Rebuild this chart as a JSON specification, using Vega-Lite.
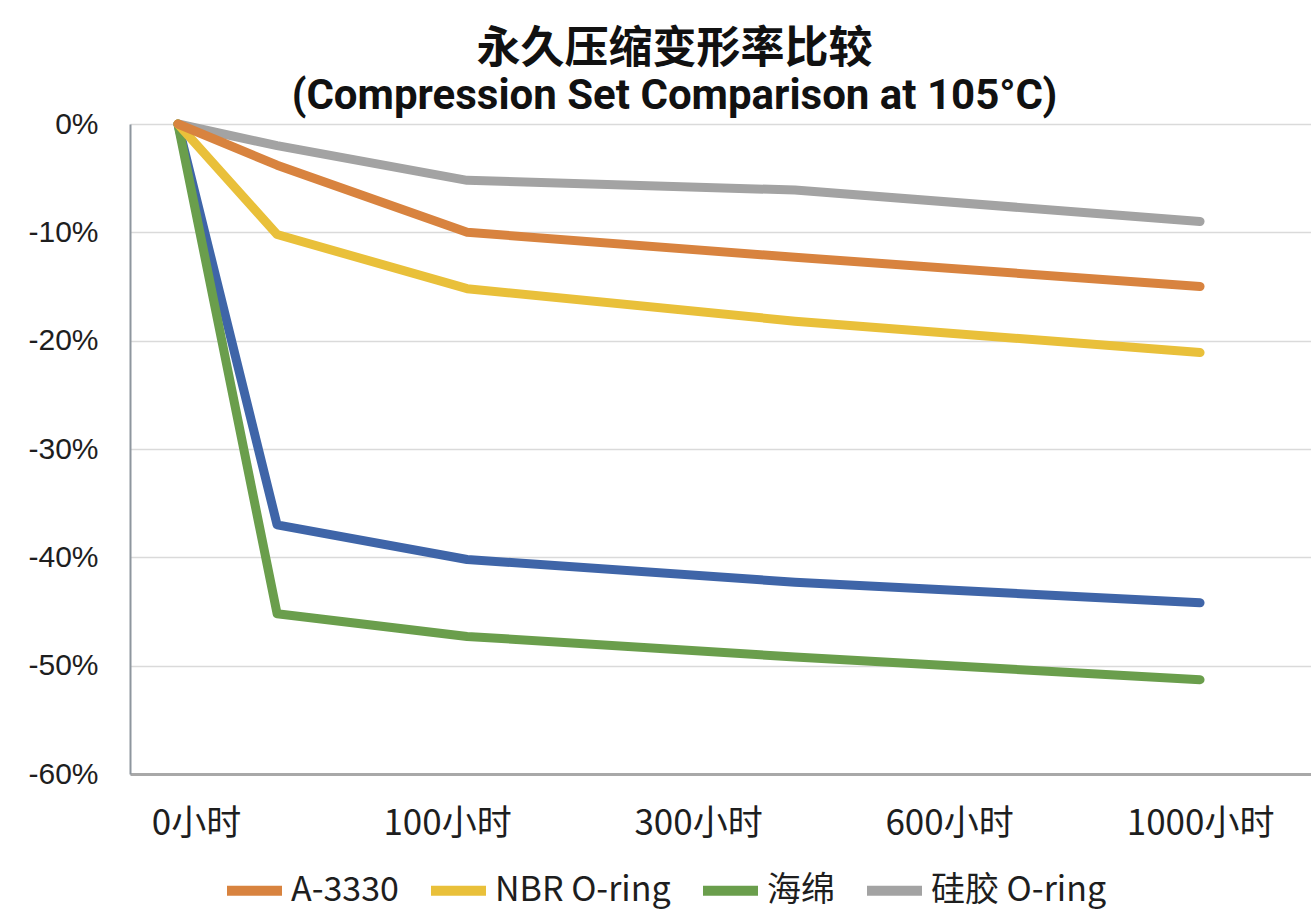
{
  "$schema": "https://vega.github.io/schema/vega-lite/v6.json",
  "autosize": {"type": "none"},
  "width": 1181,
  "height": 650,
  "padding": {"left": 130, "top": 124, "right": 0, "bottom": 141},
  "background": "white",
  "title": {
    "text": "永久压缩变形率比较",
    "subtitle": "(Compression Set Comparison at 105°C)",
    "font": "Noto Sans CJK SC",
    "fontSize": 44,
    "fontWeight": "bold",
    "color": "#111111",
    "subtitleFont": "Roboto",
    "subtitleFontSize": 42,
    "subtitleFontWeight": "bold",
    "subtitleColor": "#111111",
    "subtitlePadding": 4,
    "anchor": "middle",
    "dx": -46,
    "offset": -8
  },
  "data": {
    "values": [
      {"pos": -0.072, "series": "硅胶 O-ring", "value": 0},
      {"pos": 0.323, "series": "硅胶 O-ring", "value": -2.0},
      {"pos": 1.08, "series": "硅胶 O-ring", "value": -5.2},
      {"pos": 2.386, "series": "硅胶 O-ring", "value": -6.1},
      {"pos": 4.0, "series": "硅胶 O-ring", "value": -9.0},
      {"pos": -0.072, "series": "未标注", "value": 0},
      {"pos": 0.323, "series": "未标注", "value": -37.0},
      {"pos": 1.08, "series": "未标注", "value": -40.2},
      {"pos": 2.386, "series": "未标注", "value": -42.3},
      {"pos": 4.0, "series": "未标注", "value": -44.2},
      {"pos": -0.072, "series": "海绵", "value": 0},
      {"pos": 0.323, "series": "海绵", "value": -45.2},
      {"pos": 1.08, "series": "海绵", "value": -47.3},
      {"pos": 2.386, "series": "海绵", "value": -49.2},
      {"pos": 4.0, "series": "海绵", "value": -51.3},
      {"pos": -0.072, "series": "NBR O-ring", "value": 0},
      {"pos": 0.323, "series": "NBR O-ring", "value": -10.2},
      {"pos": 1.08, "series": "NBR O-ring", "value": -15.2},
      {"pos": 2.386, "series": "NBR O-ring", "value": -18.2},
      {"pos": 4.0, "series": "NBR O-ring", "value": -21.1},
      {"pos": -0.072, "series": "A-3330", "value": 0},
      {"pos": 0.323, "series": "A-3330", "value": -3.8},
      {"pos": 1.08, "series": "A-3330", "value": -10.0},
      {"pos": 2.386, "series": "A-3330", "value": -12.3},
      {"pos": 4.0, "series": "A-3330", "value": -15.0}
    ]
  },
  "mark": {"type": "line", "strokeWidth": 9, "strokeCap": "round", "strokeJoin": "round"},
  "encoding": {
    "x": {
      "field": "pos",
      "type": "quantitative",
      "scale": {"domain": [-0.263, 4.442], "nice": false, "zero": false},
      "axis": {
        "title": null,
        "values": [0, 1, 2, 3, 4],
        "labelExpr": "['0小时','100小时','300小时','600小时','1000小时'][datum.value]",
        "grid": false,
        "ticks": false,
        "domainColor": "#A8A8A8",
        "domainWidth": 3,
        "labelFont": "Noto Sans CJK SC",
        "labelFontSize": 35,
        "labelColor": "#1E1E1E",
        "labelPadding": 32,
        "labelFlush": false
      }
    },
    "y": {
      "field": "value",
      "type": "quantitative",
      "scale": {"domain": [-60, 0], "nice": false},
      "axis": {
        "title": null,
        "values": [0, -10, -20, -30, -40, -50, -60],
        "labelExpr": "datum.value + '%'",
        "grid": true,
        "gridColor": "#DADADA",
        "gridWidth": 1.5,
        "ticks": false,
        "domainColor": "#8E969E",
        "domainWidth": 2,
        "labelFont": "Liberation Sans",
        "labelFontSize": 30,
        "labelColor": "#1E1E1E",
        "labelPadding": 32
      }
    },
    "color": {
      "field": "series",
      "type": "nominal",
      "scale": {
        "domain": ["A-3330", "NBR O-ring", "海绵", "硅胶 O-ring", "未标注"],
        "range": ["#D8833F", "#E9C03A", "#6A9E4C", "#A3A3A3", "#3F65A8"]
      },
      "legend": {
        "title": null,
        "values": ["A-3330", "NBR O-ring", "海绵", "硅胶 O-ring"],
        "orient": "none",
        "direction": "horizontal",
        "legendX": 92,
        "legendY": 734,
        "symbolType": "stroke",
        "symbolSize": 3025,
        "symbolStrokeWidth": 10,
        "labelFont": "Noto Sans CJK SC",
        "labelFontSize": 34,
        "labelColor": "#1E1E1E",
        "labelOffset": 4,
        "columnPadding": 12,
        "labelLimit": 400
      }
    }
  },
  "config": {"view": {"stroke": null}}
}
